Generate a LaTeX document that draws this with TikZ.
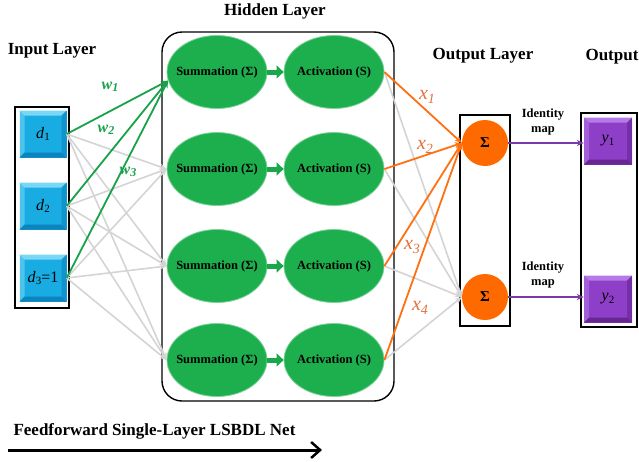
\documentclass[tikz,border=0pt]{standalone}
\usepackage{fontspec}
\setmainfont{Liberation Serif}
\usetikzlibrary{arrows.meta,shapes.geometric,calc}
\definecolor{cyanA}{HTML}{19ACE3}
\definecolor{cyanL}{HTML}{7AD8F7}
\definecolor{cyanD}{HTML}{0C84BE}
\definecolor{greenE}{HTML}{1DAF4E}
\definecolor{greenD}{HTML}{1AA64A}
\definecolor{greenRim}{HTML}{7FD39A}
\definecolor{greenLn}{HTML}{17A24A}
\definecolor{orangeC}{HTML}{FF6A00}
\definecolor{orangeLn}{HTML}{FF7010}
\definecolor{orangeT}{HTML}{E0703A}
\definecolor{purpA}{HTML}{8E3FC8}
\definecolor{purpL}{HTML}{B57AE6}
\definecolor{purpD}{HTML}{672692}
\definecolor{purpLn}{HTML}{7A3AA8}
\definecolor{greyLn}{HTML}{D4D4D4}
\newcommand{\lowsub}[2][11]{\raisebox{-0.35ex}{\fontsize{#1}{#1}\selectfont #2}}
\newcommand{\zw}[1]{\makebox[0pt]{#1}}
\tikzset{
  bevel/.style 2 args={path picture={
    \fill[#1] (path picture bounding box.north west) -- (path picture bounding box.north east)
      -- ([shift={(-5pt,-5pt)}]path picture bounding box.north east)
      -- ([shift={(5pt,-5pt)}]path picture bounding box.north west) -- cycle;
    \fill[#1,opacity=0.55] (path picture bounding box.north west) -- (path picture bounding box.south west)
      -- ([shift={(5pt,5pt)}]path picture bounding box.south west)
      -- ([shift={(5pt,-5pt)}]path picture bounding box.north west) -- cycle;
    \fill[#2] (path picture bounding box.south west) -- (path picture bounding box.south east)
      -- ([shift={(-5pt,5pt)}]path picture bounding box.south east)
      -- ([shift={(5pt,5pt)}]path picture bounding box.south west) -- cycle;
    \fill[#2,opacity=0.6] (path picture bounding box.north east) -- (path picture bounding box.south east)
      -- ([shift={(-5pt,5pt)}]path picture bounding box.south east)
      -- ([shift={(-5pt,-5pt)}]path picture bounding box.north east) -- cycle;
  }},
  dbox/.style={rectangle, fill=cyanA, minimum width=47pt, minimum height=47pt, inner sep=0pt,
    bevel={cyanL}{cyanD}, font=\fontsize{16}{16}\selectfont},
  ybox/.style={rectangle, fill=purpA, minimum width=48pt, minimum height=47pt, inner sep=0pt,
    bevel={purpL}{purpD}, font=\fontsize{16}{16}\selectfont},
  hnode/.style={ellipse, fill=greenE, draw=greenRim, line width=0.8pt, minimum width=100pt, minimum height=73pt,
    inner sep=0pt, font=\bfseries\fontsize{12.5}{14}\selectfont},
  onode/.style={circle, fill=orangeC, minimum size=46pt, inner sep=0pt, font=\bfseries\fontsize{15}{15}\selectfont},
  title/.style={font=\bfseries\fontsize{17}{19}\selectfont},
  idlabel/.style={font=\bfseries\fontsize{12.5}{15}\selectfont, align=center},
  frame/.style={draw=black, line width=1.4pt},
  greyline/.style={draw=greyLn, line width=1.6pt, -{Stealth[length=7pt,width=6pt]}},
  greenline/.style={draw=greenLn, line width=1.8pt, -{Stealth[length=7pt,width=6pt]}},
  orangeline/.style={draw=orangeLn, line width=1.8pt, -{Stealth[length=7pt,width=6pt]}},
  purpline/.style={draw=purpLn, line width=1.8pt, -{Stealth[length=7pt,width=6pt]}},
  blockarrow/.style={draw=greenD, line width=5pt, -{Triangle[length=7pt,width=13pt]}},
  wlab/.style={text=greenLn, font=\bfseries\itshape\fontsize{16}{16}\selectfont},
  xlab/.style={text=orangeT, font=\itshape\fontsize{20}{20}\selectfont},
}
\begin{document}
\begin{tikzpicture}[x=1pt,y=-1pt]
\useasboundingbox (0,0) rectangle (639,461);

% titles
\node[title] (tin) at (52,51) {Input Layer};
\node[title] (thid) at (275,11) {Hidden Layer};
\node[title] (tout) at (483,56) {Output Layer};
\node[title] (toutp) at (612,57) {Output};

% input nodes
\node[dbox] (d1) at (43,134) {\textit{d}\lowsub{1}};
\node[dbox] (d2) at (43,206) {\textit{d}\lowsub{2}};
\node[dbox] (d3) at (43,278) {\textit{d}\lowsub{3}=1};

% hidden nodes
\foreach \j/\y in {1/72,2/169,3/266,4/360}{
  \node[hnode] (s\j) at (217,\y) {\zw{Summation (Σ)}};
  \node[hnode] (a\j) at (334,\y) {\zw{Activation (S)}};
}

% output layer
\node[onode] (o1) at (485,143) {Σ};
\node[onode] (o2) at (485,297) {Σ};
\node[ybox] (y1) at (608,141) {\textit{y}\lowsub{1}};
\node[ybox] (y2) at (608,299) {\textit{y}\lowsub{2}};

% frames
\draw[frame] (15,107) rectangle (69,308);
\draw[frame, rounded corners=20pt] (162,32) rectangle (394,401);
\draw[frame] (460,115) rectangle (510,326);
\draw[frame] (581,113) rectangle (637,327);

% grey input connections
\foreach \i in {1,2,3}{
  \foreach \j in {2,3,4}{
    \draw[greyline] (d\i.east) -- (s\j.west);
  }
}
% green connections
\foreach \i in {1,2,3}{
  \draw[greenline] (d\i.east) -- (s1.190);
}
% block arrows inside hidden layer
\foreach \j in {1,2,3,4}{
  \draw[blockarrow] (s\j.east) -- (a\j.west);
}
% output connections
\foreach \j in {1,2,3,4}{
  \draw[greyline] (a\j.east) -- (o2.west);
}
\foreach \j in {1,2,3,4}{
  \draw[orangeline] (a\j.east) -- (o1.west);
}
\draw[purpline] (o1.east) -- (y1.west |- o1.east);
\draw[purpline] (o2.east) -- (y2.west |- o2.east);

% labels
\node[wlab] (w1) at (110,87) {w\lowsub[12]{1}};
\node[wlab] (w2) at (106,130) {w\lowsub[12]{2}};
\node[wlab] (w3) at (128,172) {w\lowsub[12]{3}};
\node[xlab] (x1) at (427,97) {x\lowsub[14]{1}};
\node[xlab] (x2) at (425,147) {x\lowsub[14]{2}};
\node[xlab] (x3) at (412,247) {x\lowsub[14]{3}};
\node[xlab] (x4) at (420,308) {x\lowsub[14]{4}};
\node[idlabel] (id1) at (543,122) {Identity\\map};
\node[idlabel] (id2) at (543,275) {Identity\\map};

% bottom
\node[title, anchor=west] (ff) at (10,431) {Feedforward Single-Layer LSBDL Net};
\coordinate (fa) at (8,450);
\coordinate (fb) at (322,450);
\draw[line width=3pt, -{Straight Barb[length=9pt,width=16pt,line width=2.5pt]}] (fa) -- (fb);
\end{tikzpicture}
\end{document}
